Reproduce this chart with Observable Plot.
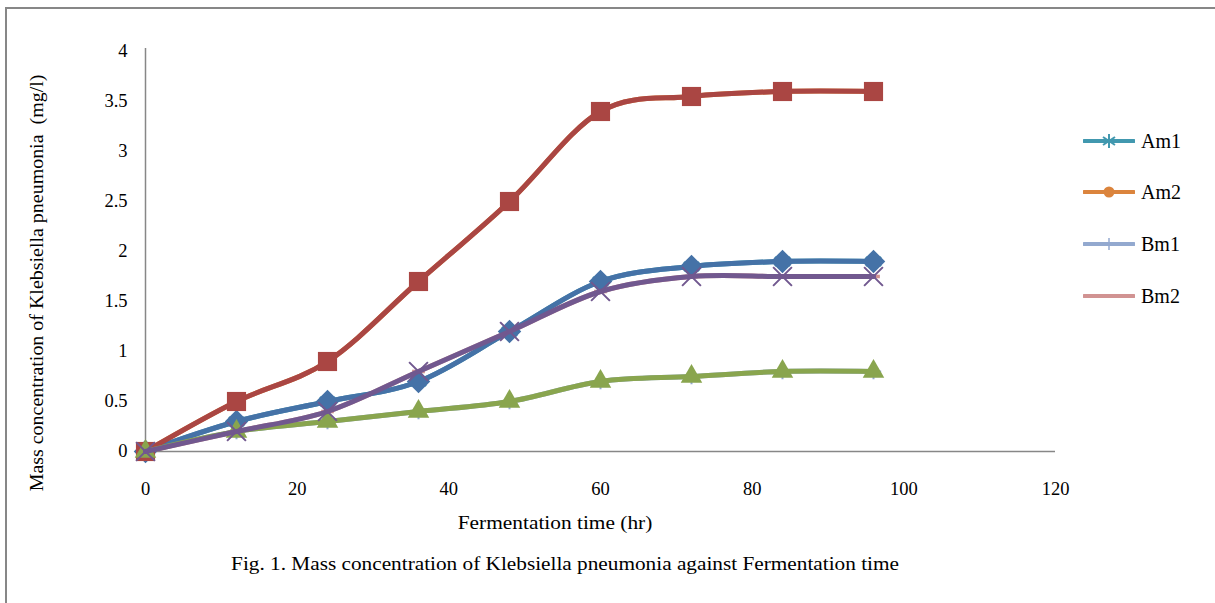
<!DOCTYPE html>
<html>
<head>
<meta charset="utf-8">
<script src="https://cdn.jsdelivr.net/npm/d3@7"></script>
<script src="https://cdn.jsdelivr.net/npm/@observablehq/plot@0.6"></script>
<style>
  html, body { margin: 0; padding: 0; background: #fff; }
  body { width: 1215px; height: 603px; overflow: hidden; position: relative; font-family: "Liberation Serif", "Times New Roman", serif; }
  #frame { position: absolute; left: 5px; top: 7px; width: 1300px; height: 700px; border: 2px solid #878787; box-sizing: border-box; }
  #chart { position: absolute; left: 0; top: 0; }
  .txt { position: absolute; color: #000; white-space: nowrap; font-family: "Liberation Serif", "Times New Roman", serif; }
  #xtitle { left: 555px; top: 522px; transform: translate(-50%, -50%) scaleX(1.08); font-size: 19.8px; }
  #caption { left: 565px; top: 563px; transform: translate(-50%, -50%) scaleX(1.08); font-size: 19.7px; }
  #ytitle { left: 37px; top: 283px; transform: translate(-50%, -50%) rotate(-90deg) scaleX(1.04); font-size: 19.2px; }
  #legend { position: absolute; left: 1083px; top: 0; }
  .item { position: absolute; left: 0; height: 20px; display: flex; align-items: center; font-size: 20px; transform: translateY(-50%); }
  .item svg { margin-right: 6px; }
</style>
</head>
<body>
<div id="frame"></div>
<div id="chart"></div>
<div class="txt" id="xtitle">Fermentation time (hr)</div>
<div class="txt" id="caption">Fig. 1. Mass concentration of Klebsiella pneumonia against Fermentation time</div>
<div class="txt" id="ytitle">Mass concentration of Klebsiella pneumonia&nbsp; (mg/l)</div>
<div id="legend"></div>
<script>
// ---- data ----
const hours = [0, 12, 24, 36, 48, 60, 72, 84, 96];
const Am1 = [0, 0.3, 0.5, 0.7, 1.2, 1.7, 1.85, 1.9, 1.9];
const Am2 = [0, 0.5, 0.9, 1.7, 2.5, 3.4, 3.55, 3.6, 3.6];
const Bm1 = [0, 0.2, 0.3, 0.4, 0.5, 0.7, 0.75, 0.8, 0.8];
const Bm2 = [0, 0.2, 0.4, 0.8, 1.2, 1.6, 1.75, 1.75, 1.75];
const xTicks = [0, 20, 40, 60, 80, 100, 120];
const yTicks = [0, 0.5, 1, 1.5, 2, 2.5, 3, 3.5, 4];
const yTickLabels = ["0", "0.5", "1", "1.5", "2", "2.5", "3", "3.5", "4"];
const legendNames = ["Am1", "Am2", "Bm1", "Bm2"];

const rows = (vals) => hours.map((h, i) => ({x: h, y: vals[i]}));

const dash = {draw(ctx, size) { const w = Math.sqrt(size) * 1.2; ctx.rect(-w / 2, -1.8, w, 3.6); }};

// legend (hidden-under) series
const under = [
  {vals: Am1, color: "#4198AF", symbol: "asterisk", fill: false, r: 8.5},
  {vals: Am2, color: "#DB843D", symbol: "circle", fill: true, r: 6},
  {vals: Bm1, color: "#93A9CF", symbol: "plus", fill: false, r: 5},
  {vals: Bm2, color: "#D19392", symbol: dash, fill: true, r: 6}
];
// top series
const over = [
  {vals: Am1, color: "#4572A7", symbol: "square", rotate: 45, fill: true, r: 9.4},
  {vals: Am2, color: "#AA4643", symbol: "square", rotate: 0, fill: true, r: 10.8},
  {vals: Bm1, color: "#89A54E", symbol: "triangle", rotate: 0, fill: true, r: 8},
  {vals: Bm2, color: "#71588F", symbol: "times", rotate: 0, fill: false, r: 8.6}
];

const marks = [
  Plot.ruleX([0], {y1: 0, y2: 4.03, stroke: "#878787", strokeWidth: 1.5}),
  Plot.ruleY([0], {x1: 0, x2: 120, stroke: "#878787", strokeWidth: 1.5}),
  Plot.axisX({ticks: xTicks, tickSize: 0, tickPadding: 30, label: null, tickFormat: d => String(d)}),
  Plot.axisY({ticks: yTicks, tickSize: 0, tickPadding: 18, label: null, tickFormat: d => yTickLabels[yTicks.indexOf(d)]})
];
for (const s of under) {
  const d = rows(s.vals);
  marks.push(Plot.line(d, {x: "x", y: "y", stroke: s.color, strokeWidth: 5, curve: "cardinal", tension: 0}));
  marks.push(Plot.dot(d, s.fill
    ? {x: "x", y: "y", symbol: s.symbol, r: s.r, fill: s.color, stroke: "none"}
    : {x: "x", y: "y", symbol: s.symbol, r: s.r, stroke: s.color, strokeWidth: 2, fill: "none"}));
}
for (const s of over) {
  const d = rows(s.vals);
  marks.push(Plot.line(d, {x: "x", y: "y", stroke: s.color, strokeWidth: 5, curve: "cardinal", tension: 0}));
  marks.push(Plot.dot(d, s.fill
    ? {x: "x", y: "y", symbol: s.symbol, rotate: s.rotate, r: s.r, fill: s.color, stroke: "none"}
    : {x: "x", y: "y", symbol: s.symbol, r: s.r, stroke: s.color, strokeWidth: 2, fill: "none"}));
}

const chart = Plot.plot({
  width: 1215,
  height: 603,
  marginLeft: 145,
  marginRight: 160,
  marginTop: 51,
  marginBottom: 152,
  x: {domain: [0, 120]},
  y: {domain: [0, 4]},
  style: {fontFamily: "Liberation Serif, Times New Roman, serif", fontSize: "18.5px", color: "#000", background: "transparent", overflow: "visible"},
  marks
});
document.getElementById("chart").appendChild(chart);

// legend
const legend = document.getElementById("legend");
const rowY = [141, 192, 244, 296];
under.forEach((s, i) => {
  const div = document.createElement("div");
  div.className = "item";
  div.style.top = rowY[i] + "px";
  let mk = "";
  if (s.symbol === "asterisk") mk = `<path d="M26,3V17M20,6L32,14M20,14L32,6" stroke="${s.color}" stroke-width="2" fill="none"/>`;
  else if (s.symbol === "circle") mk = `<circle cx="26" cy="10" r="5.5" fill="${s.color}"/>`;
  else if (s.symbol === "plus") mk = `<path d="M26,4V16" stroke="${s.color}" stroke-width="1.5"/>`;
  else mk = `<rect x="22" y="8" width="8" height="4" fill="${s.color}"/>`;
  div.innerHTML = `<svg width="52" height="20"><line x1="1" y1="10" x2="51" y2="10" stroke="${s.color}" stroke-width="4" stroke-linecap="round"/>${mk}</svg><span>${legendNames[i]}</span>`;
  legend.appendChild(div);
});
</script>
</body>
</html>
